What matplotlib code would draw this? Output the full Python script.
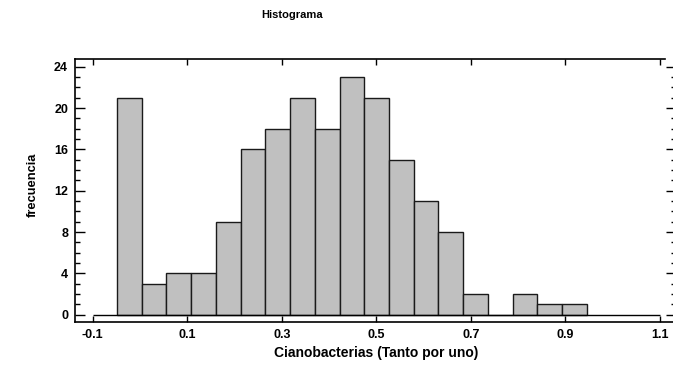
import numpy as np
import matplotlib
matplotlib.use('Agg')
import matplotlib.pyplot as plt
from matplotlib.ticker import MultipleLocator

plt.rcParams['font.family'] = ['Liberation Sans', 'DejaVu Sans']
plt.rcParams['font.weight'] = 'bold'

# histogram data
bin_lo = -0.0486
bin_width = 0.0523
counts = [21, 3, 4, 4, 9, 16, 18, 21, 18, 23, 21, 15, 11, 8, 2, 0, 2, 1, 1]
x_ticks = [-0.1, 0.1, 0.3, 0.5, 0.7, 0.9, 1.1]
y_ticks = [0, 4, 8, 12, 16, 20, 24]

edges = bin_lo + bin_width * np.arange(len(counts) + 1)
centers = edges[:-1] + bin_width / 2

fig = plt.figure(figsize=(6.73, 3.66), dpi=100)
ax = fig.add_axes([75/673, 1 - 322.3/366, (676 - 75)/673, (322.3 - 59)/366])

ax.hlines(0, -0.1, 1.1, color='black', lw=1)
ax.hist(centers, bins=edges, weights=counts, color='#c0c0c0',
        edgecolor='#1a1a1a', linewidth=1)

ax.set_xlim(-0.1375, 1.1339)
ax.set_ylim(-0.74, 24.75)

ax.set_xticks(x_ticks)
ax.set_xticklabels(['%g' % t for t in x_ticks])
ax.set_yticks(y_ticks)
ax.yaxis.set_minor_locator(MultipleLocator(1))

ax.tick_params(axis='x', which='major', direction='in', top=True, bottom=True,
               length=4.3, width=1, labelsize=9, pad=5)
ax.tick_params(axis='y', which='major', direction='in', left=True, right=True,
               length=7.2, width=1, labelsize=9, pad=5)
ax.tick_params(axis='y', which='minor', direction='in', left=True, right=True,
               length=3.6, width=1)

ax.spines['right'].set_visible(False)
ax.spines['top'].set_bounds(-0.1375, 1.1 + 5/472.5)
for s in ['left', 'bottom', 'top']:
    ax.spines[s].set_linewidth(1.2)

for lbl in ax.get_xticklabels() + ax.get_yticklabels():
    lbl.set_fontweight('bold')

fig.text(292/673, 1 - 15/366, 'Histograma', ha='center', va='center',
         fontsize=8, fontweight='bold')
fig.text(376/673, 1 - 353/366, 'Cianobacterias (Tanto por uno)', ha='center',
         va='center', fontsize=10, fontweight='bold')
fig.text(33/673, 1 - 185/366, 'frecuencia', ha='center', va='center',
         rotation=90, fontsize=9.3, fontweight='bold')

fig.savefig('out.png', dpi=100)
